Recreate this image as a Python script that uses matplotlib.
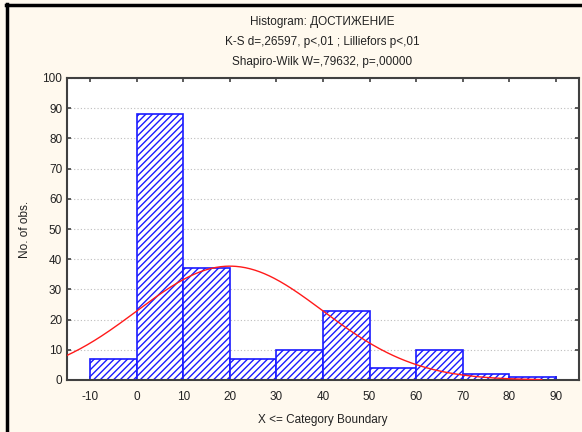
import numpy as np
import matplotlib
matplotlib.use("Agg")
import matplotlib.pyplot as plt
from matplotlib.lines import Line2D

plt.rcParams['font.family'] = ['Liberation Sans', 'DejaVu Sans']
plt.rcParams['axes.unicode_minus'] = False
plt.rcParams['hatch.linewidth'] = 1.0
plt.rcParams['hatch.color'] = '#1a1aff'

# Histogram bins (upper category boundaries) and counts
bin_edges = [-10, 0, 10, 20, 30, 40, 50, 60, 70, 80, 90]
counts = [7, 88, 37, 7, 10, 23, 4, 10, 2, 1]

# Fitted normal curve parameters
fit_mean = 20.0
fit_sd = 20.0
n_obs = sum(counts)

x_ticks = [-10, 0, 10, 20, 30, 40, 50, 60, 70, 80, 90]
y_ticks = [0, 10, 20, 30, 40, 50, 60, 70, 80, 90, 100]

title_lines = ["Histogram: ДОСТИЖЕНИЕ",
               "K-S d=,26597, p<,01 ; Lilliefors p<,01",
               "Shapiro-Wilk W=,79632, p=,00000"]

bg = '#fff9ee'
fig = plt.figure(figsize=(5.82, 4.32), dpi=100, facecolor=bg)
ax = fig.add_axes([67/582, 1 - 380/432, (579-67)/582, (380-78)/432])
ax.set_facecolor('white')

widths = np.diff(bin_edges)
ax.bar(bin_edges[:-1], counts, width=widths, align='edge',
       facecolor='white', edgecolor='#1a1aff', linewidth=1.2,
       hatch='/////', zorder=2)

bw = widths[0]
xs = np.linspace(-15, 87, 400)
ys = n_obs * bw / (fit_sd * np.sqrt(2 * np.pi)) * np.exp(-0.5 * ((xs - fit_mean) / fit_sd) ** 2)
ax.plot(xs, ys, color='#ff1a1a', linewidth=1.0, zorder=3)

ax.set_xlim(-15, 95)
ax.set_ylim(0, 100)
ax.set_xticks(x_ticks)
ax.set_yticks(y_ticks)
ax.tick_params(axis='both', direction='in', length=3, width=1.2, color='#404040',
               labelsize=8.5, labelcolor='#222222', top=True, right=True)
ax.tick_params(axis='x', pad=8)
ax.yaxis.grid(True, linestyle=(0, (1, 2)), color='#bdbdbd', linewidth=0.8, zorder=0)
ax.set_axisbelow(True)
for s in ax.spines.values():
    s.set_color('#404040')
    s.set_linewidth(1.5)

ax.set_xlabel("X <= Category Boundary", fontsize=8.5, color='#222222', labelpad=8)
ax.set_ylabel("No. of obs.", fontsize=8.5, color='#222222', labelpad=8)

for i, line in enumerate(title_lines):
    fig.text(322/582, 1 - (22 + 20 * i)/432, line, ha='center', va='center',
             fontsize=8.5, color='#222222')

# window frame on top and left edges
fig.add_artist(Line2D([7/582, 7/582], [0, 1 - 4/432], color='black', linewidth=2.5,
                      transform=fig.transFigure))
fig.add_artist(Line2D([6/582, 1], [1 - 5/432, 1 - 5/432], color='black', linewidth=2.5,
                      transform=fig.transFigure))

fig.savefig("out.png", dpi=100, facecolor=bg)
